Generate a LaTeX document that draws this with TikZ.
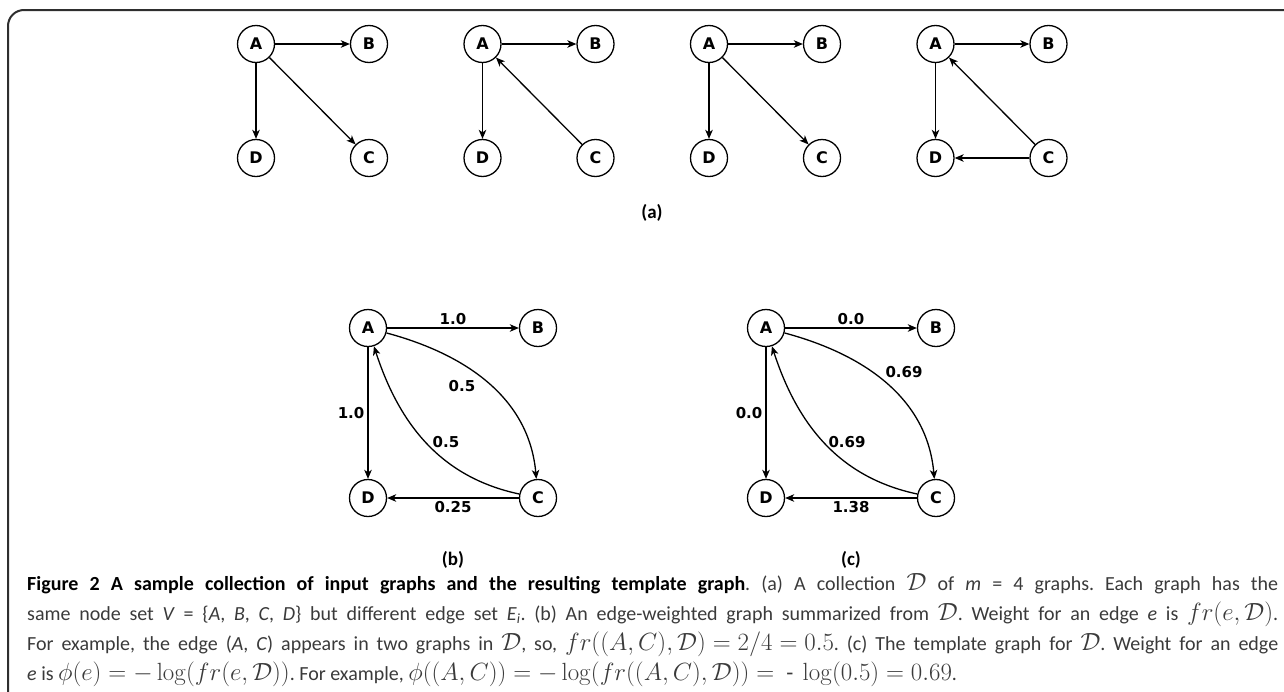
\documentclass[tikz,border=0pt]{standalone}
\usepackage[no-math]{fontspec}
\setmainfont{Carlito}
\newfontfamily\djv{DejaVu Sans}
\usetikzlibrary{arrows.meta}
\definecolor{captext}{HTML}{3A3A3A}
\definecolor{framecol}{HTML}{2E2E2E}
\newcommand{\mth}[1]{{\fontsize{23}{23}\selectfont\thickmuskip=5mu\medmuskip=4mu\thinmuskip=3mu$#1$}}
\newcommand{\cD}{\mathcal{D}}
\frenchspacing
\begin{document}
\begin{tikzpicture}[x=1pt,y=-1pt,
  vtx/.style={circle,draw,line width=1.3pt,minimum size=37pt,inner sep=0pt,font=\djv\bfseries\fontsize{16}{16}\selectfont},
  arr/.style={line width=1.3pt,-{Stealth[length=9pt,width=7.5pt,inset=2.5pt]}},
  wt/.style={font=\djv\bfseries\fontsize{15}{15}\selectfont,inner sep=3pt},
  sublab/.style={font=\bfseries\fontsize{19}{20}\selectfont},
  capline/.style={anchor=base west,inner sep=0pt,font=\fontsize{20}{30}\selectfont\frenchspacing,text=captext}]
\useasboundingbox (0,0) rectangle (1284,691);
\draw[framecol,line width=2pt,rounded corners=16pt] (8,700) -- (8,10) -- (1300,10);
% (a)
\foreach \i/\x in {1/256,2/482.5,3/709,4/935.5}{
  \node[vtx] (A\i) at (\x,44) {A};
  \node[vtx] (B\i) at (\x+113,44) {B};
  \node[vtx] (D\i) at (\x,158) {D};
  \node[vtx] (C\i) at (\x+113,158) {C};
  \draw[arr] (A\i) -- (B\i);
  \draw[arr] (A\i) -- (D\i);
}
\draw[arr] (A1) -- (C1);
\draw[arr] (C2) -- (A2);
\draw[arr] (A3) -- (C3);
\draw[arr] (C4) -- (A4);
\draw[arr] (C4) -- (D4);
\node[sublab] (la) at (652,213) {(a)};
% (b)
\node[vtx] (bA) at (368,328) {A};
\node[vtx] (bB) at (538,328) {B};
\node[vtx] (bC) at (538,498) {C};
\node[vtx] (bD) at (368,498) {D};
\draw[arr] (bA) -- node[wt,above]{1.0} (bB);
\draw[arr] (bA) -- node[wt,left]{1.0} (bD);
\draw[arr] (bC) -- node[wt,below]{0.25} (bD);
\draw[arr] (bA) to[out=-15,in=95] (bC);
\draw[arr] (bC) to[out=168,in=-72] (bA);
\node[wt] (bw1) at (462,386) {0.5};
\node[wt] (bw2) at (446,442) {0.5};
\node[sublab] (lb) at (453,560) {(b)};
% (c)
\node[vtx] (cA) at (766,328) {A};
\node[vtx] (cB) at (936,328) {B};
\node[vtx] (cC) at (936,498) {C};
\node[vtx] (cD) at (766,498) {D};
\draw[arr] (cA) -- node[wt,above]{0.0} (cB);
\draw[arr] (cA) -- node[wt,left]{0.0} (cD);
\draw[arr] (cC) -- node[wt,below]{1.38} (cD);
\draw[arr] (cA) to[out=-15,in=95] (cC);
\draw[arr] (cC) to[out=168,in=-72] (cA);
\node[wt] (cw1) at (904,372) {0.69};
\node[wt] (cw2) at (847,442) {0.69};
\node[sublab] (lc) at (851,560) {(c)};
% caption
\node[capline] (cap1) at (27,590) {\hbox to 1251pt{{\color{black}\bfseries Figure 2 A sample collection of input graphs and the resulting template graph}. (a) A collection \mth{\cD} of \textit{m} = 4 graphs. Each graph has the}};
\node[capline] (cap2) at (27,620) {\hbox to 1251pt{same node set \textit{V} = \{\textit{A}, \textit{B}, \textit{C}, \textit{D}\} but different edge set \textit{E}\textsubscript{\textit{i}}. (b) An edge-weighted graph summarized from \mth{\cD}. Weight for an edge \textit{e} is \mth{fr(e,\cD)}.}};
\node[capline] (cap3) at (27,650) {\hbox to 1251pt{For example, the edge (\textit{A}, \textit{C}) appears in two graphs in \mth{\cD}, so, \mth{fr((A,C),\cD) = 2/4 = 0.5}. (c) The template graph for \mth{\cD}. Weight for an edge}};
\node[capline] (cap4) at (27,680) {\textit{e} is \mth{\phi(e) = -\log(fr(e,\cD))}. For example, \mth{\phi((A,C)) = -\log(fr((A,C),\cD)) =\ \mbox{-}\ \log(0.5) = 0.69}.};
\end{tikzpicture}
\end{document}
